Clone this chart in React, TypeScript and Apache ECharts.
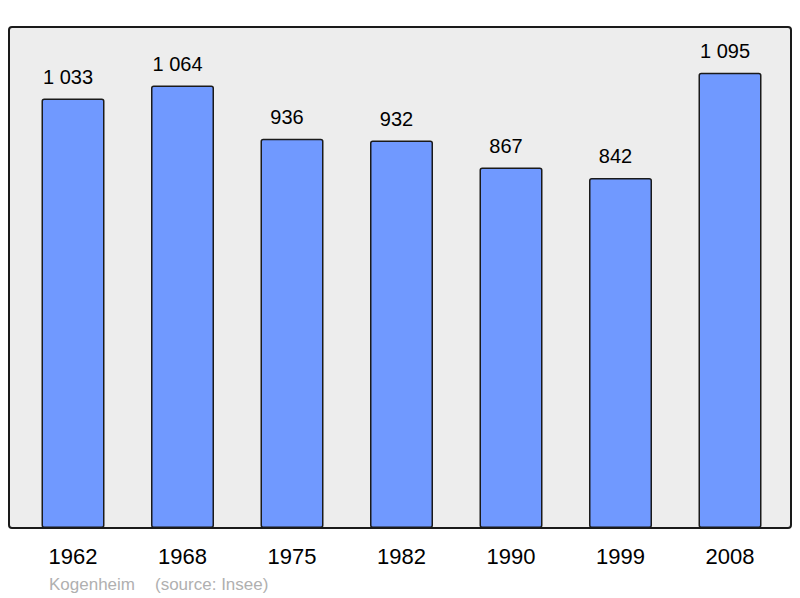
import React, { useEffect, useRef } from "react";
import * as echarts from "echarts";

const years = ["1962", "1968", "1975", "1982", "1990", "1999", "2008"];
const population = [1033, 1064, 936, 932, 867, 842, 1095];
const commune = "Kogenheim";
const source = "(source: Insee)";

const FONT = "'Liberation Sans', Arial, sans-serif";

function fmt(v: number): string {
  const s = String(v);
  return s.length > 3 ? s.slice(0, s.length - 3) + " " + s.slice(s.length - 3) : s;
}

export default function App() {
  const ref = useRef<HTMLDivElement>(null);
  useEffect(() => {
    if (!ref.current) return;
    const chart = echarts.init(ref.current, null, { renderer: "svg" });
    chart.setOption({
      animation: false,
      textStyle: { fontFamily: FONT },
      graphic: [
        {
          type: "rect",
          z: -10,
          shape: { x: 9, y: 27, width: 782, height: 501, r: 3 },
          style: { fill: "#ededed", stroke: "#1a1a1a", lineWidth: 2 },
        },
        {
          type: "text",
          x: 49,
          y: 584,
          style: {
            text: commune,
            fill: "#b0b0b0",
            font: `17px ${FONT}`,
            textVerticalAlign: "middle",
          },
        },
        {
          type: "text",
          x: 155,
          y: 584,
          style: {
            text: source,
            fill: "#b0b0b0",
            font: `17px ${FONT}`,
            textVerticalAlign: "middle",
          },
        },
      ],
      grid: { left: 18.25, width: 766.5, top: 27, bottom: 70 },
      xAxis: {
        type: "category",
        data: years,
        axisLine: { show: false },
        axisTick: { show: false },
        axisLabel: { color: "#000", fontSize: 22, margin: 17, fontFamily: FONT },
      },
      yAxis: {
        type: "value",
        min: 0,
        max: 1205,
        show: false,
        splitLine: { show: false },
      },
      series: [
        {
          type: "bar",
          data: population,
          barWidth: 63,
          itemStyle: {
            color: "#7099ff",
            borderColor: "#1a1a1a",
            borderWidth: 1.5,
            borderRadius: 2,
          },
          label: {
            show: true,
            position: "top",
            distance: 12,
            offset: [-5, 0],
            color: "#000",
            fontSize: 20,
            fontFamily: FONT,
            formatter: (p: any) => fmt(p.value),
          },
        },
      ],
    });
    return () => chart.dispose();
  }, []);
  return (
    <div
      ref={ref}
      style={{ position: "fixed", left: 0, top: 0, width: 800, height: 598, background: "#fff" }}
    />
  );
}
